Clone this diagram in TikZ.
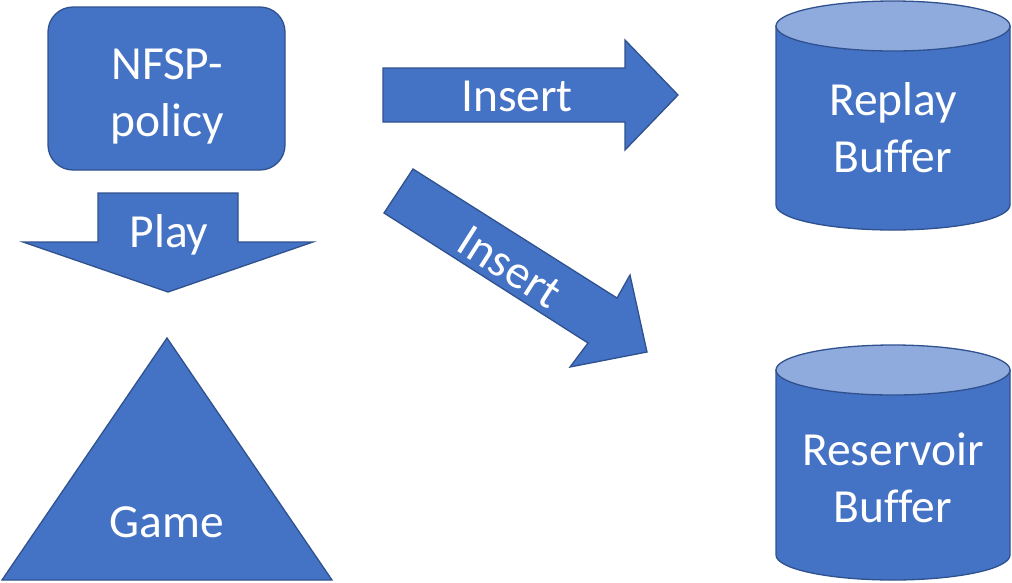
\documentclass[tikz,border=0pt]{standalone}
\usepackage{fontspec}
\setmainfont{Carlito}[Ligatures=NoCommon]
\definecolor{blkfill}{HTML}{4472C4}
\definecolor{blkline}{HTML}{2F528F}
\definecolor{cyltop}{HTML}{8FAADC}
\begin{document}
\begin{tikzpicture}[x=1pt,y=1pt,
  blk/.style={fill=blkfill,draw=blkline,line width=1.3pt,line join=miter},
  lbl/.style={text=white,font=\fontsize{47.5}{57}\selectfont,inner sep=0pt,align=center}]
\useasboundingbox (0,0) rectangle (1012,-582);
% NFSP-policy box
\draw[blk,rounded corners=25pt] (48,-7) rectangle (285,-170);
\node[lbl] (nfsp) at (167,-96) {NFSP-\\policy};
% Play arrow
\draw[blk] (98,-193) -- (238,-193) -- (238,-242) -- (313,-242) -- (168,-292) -- (23,-242) -- (98,-242) -- cycle;
\node[lbl,anchor=base] (play) at (169,-247) {Play};
% Game triangle
\draw[blk] (167,-338) -- (332,-580) -- (2,-580) -- cycle;
\node[lbl,anchor=base] (game) at (167,-537) {Game};
% Insert arrow (horizontal)
\draw[blk] (383,-68) -- (625,-68) -- (625,-40) -- (678,-95) -- (625,-150) -- (625,-122) -- (383,-122) -- cycle;
\node[lbl,anchor=base] (insA) at (517,-111) {Insert};
% Insert arrow (diagonal)
\draw[blk] (413,-169) -- (617,-298) -- (630,-275) -- (647,-352) -- (570,-367) -- (588,-343) -- (384,-213) -- cycle;
\node[lbl,rotate=-32.5] (insB) at (510,-267) {Insert};
% Replay Buffer cylinder
\coordinate (rbtop) at (893,-26);
\draw[blk] (776,-26) -- (776,-205) arc[start angle=180,end angle=360,x radius=117,y radius=25] -- (1010,-26) -- cycle;
\draw[blk,fill=cyltop] (rbtop) ellipse [x radius=117,y radius=25];
\node[lbl] (replay) at (893,-128) {Replay\\Buffer};
% Reservoir Buffer cylinder
\coordinate (rstop) at (893,-370);
\draw[blk] (776,-370) -- (776,-555) arc[start angle=180,end angle=360,x radius=117,y radius=25] -- (1010,-370) -- cycle;
\draw[blk,fill=cyltop] (rstop) ellipse [x radius=117,y radius=25];
\node[lbl] (reservoir) at (893,-478) {Reservoir\\Buffer};
\end{tikzpicture}
\end{document}
